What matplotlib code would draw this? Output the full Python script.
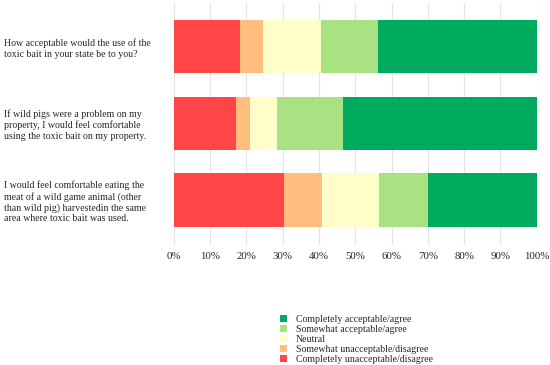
import matplotlib
matplotlib.use("Agg")
import matplotlib.pyplot as plt
from matplotlib.patches import Patch

questions = [
    "How acceptable would the use of the\ntoxic bait in your state be to you?",
    "If wild pigs were a problem on my\nproperty, I would feel comfortable\nusing the toxic bait on my property.",
    "I would feel comfortable eating the\nmeat of a wild game animal (other\nthan wild pig) harvestedin the same\narea where toxic bait was used.",
]
categories = [
    "Completely unacceptable/disagree",
    "Somewhat unacceptable/disagree",
    "Neutral",
    "Somewhat acceptable/agree",
    "Completely acceptable/agree",
]
completely_unacceptable = [18.3, 17.0, 30.3]
somewhat_unacceptable = [6.4, 4.1, 10.6]
neutral = [15.8, 7.4, 15.5]
somewhat_acceptable = [15.8, 18.1, 13.6]
completely_acceptable = [43.7, 53.4, 30.0]
series = [completely_unacceptable, somewhat_unacceptable, neutral,
          somewhat_acceptable, completely_acceptable]
colors = ["#FF4545", "#FFBE7D", "#FFFDC8", "#A8E283", "#00AB60"]
xticks = [0, 10, 20, 30, 40, 50, 60, 70, 80, 90, 100]
xticklabels = [f"{t}%" for t in xticks]

plt.rcParams['font.family'] = ['Liberation Serif', 'DejaVu Serif']
txt = "#262626"

fig = plt.figure(figsize=(5.5, 3.65), dpi=100)
ax = fig.add_axes([0.316, 0.329, 0.66, 0.663])

ypos = list(range(len(questions)))
left = [0.0] * len(questions)
for vals, col in zip(series, colors):
    ax.barh(ypos, vals, left=left, height=0.695, color=col, linewidth=0, zorder=2)
    left = [l + v for l, v in zip(left, vals)]

ax.set_xlim(0, 100)
ax.set_ylim(2.585, -0.57)
ax.set_xticks(xticks)
ax.set_xticklabels(xticklabels, fontsize=7.8, color=txt)
ax.set_yticks(ypos)
ax.set_yticklabels(questions, fontsize=7.1, color=txt, ha="left",
                   linespacing=1.22)
ax.tick_params(axis="y", length=0, pad=122.5)
ax.tick_params(axis="x", length=0, pad=5)
ax.xaxis.grid(True, color="#e4e4e4", linewidth=0.8, zorder=0)
ax.set_axisbelow(True)
for s in ax.spines.values():
    s.set_visible(False)

handles = [Patch(facecolor=c, edgecolor="none") for c in colors][::-1]
labels = categories[::-1]
fig.legend(handles, labels, loc="upper left", bbox_to_anchor=(0.509, 0.138),
           frameon=False, fontsize=7.1, labelspacing=0.1, handlelength=0.75,
           handleheight=0.75, handletextpad=0.85, borderpad=0, borderaxespad=0,
           labelcolor=txt)

fig.savefig("out.png", dpi=100)
